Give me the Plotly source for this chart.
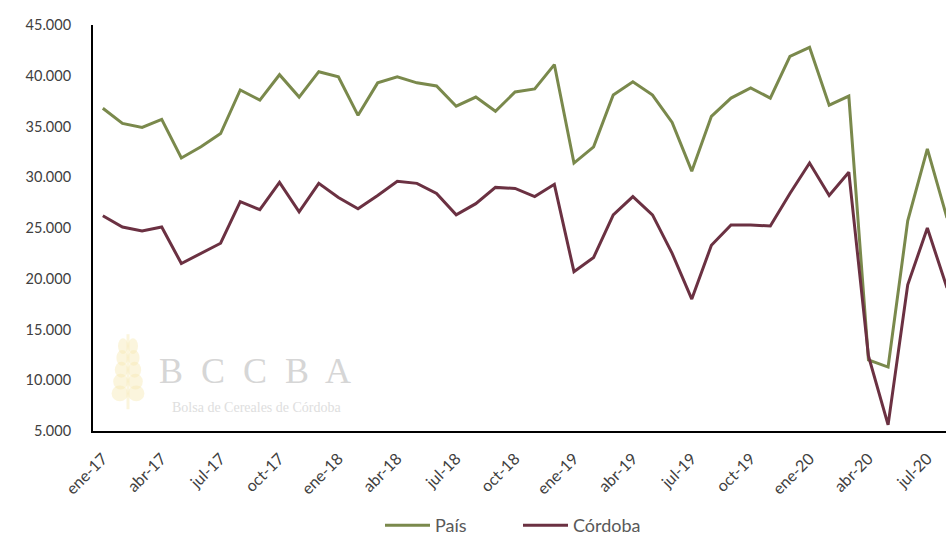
import plotly.graph_objects as go

# Monthly series, Jan 2017 - Aug 2020
meses = ["ene", "feb", "mar", "abr", "may", "jun", "jul", "ago", "sep", "oct", "nov", "dic"]
periodos = [f"{m}-{a}" for a in ["17", "18", "19", "20"] for m in meses][:44]

pais = [
    36800, 35300, 34900, 35700, 31900, 33000, 34300, 38600, 37600, 40100, 37900, 40400,
    39900, 36100, 39300, 39900, 39300, 39000, 37000, 37900, 36500, 38400, 38700, 41100,
    31400, 33000, 38100, 39400, 38100, 35400, 30600, 36000, 37800, 38800, 37800, 41900,
    42800, 37100, 38000, 12000, 11300, 25700, 32800, 26000,
]
cordoba = [
    26200, 25100, 24700, 25100, 21500, 22500, 23500, 27600, 26800, 29500, 26600, 29400,
    28000, 26900, 28200, 29600, 29400, 28400, 26300, 27400, 29000, 28900, 28100, 29300,
    20700, 22100, 26300, 28100, 26300, 22500, 18000, 23300, 25300, 25300, 25200, 28400,
    31400, 28200, 30500, 12400, 5600, 19400, 25000, 19100,
]

etiquetas_x = periodos[::3]
valores_y = [5000, 10000, 15000, 20000, 25000, 30000, 35000, 40000, 45000]

COLOR_PAIS = "#7a894c"
COLOR_CBA = "#6b3142"
FONT = "Lato"

# plot-area geometry in pixels, used to place the watermark
L, R, T, B = 93, 946, 25, 436


def dx(px):
    return (px - L) / (R - L)


def dy(py):
    return (B - py) / (B - T)


fig = go.Figure()
fig.add_trace(go.Scatter(x=periodos, y=pais, name="País", mode="lines",
                         line=dict(color=COLOR_PAIS, width=3)))
fig.add_trace(go.Scatter(x=periodos, y=cordoba, name="Córdoba", mode="lines",
                         line=dict(color=COLOR_CBA, width=3)))

# watermark: wheat ear + BCCBA lettering
grano = "rgba(247,232,180,0.45)"
fig.add_shape(type="line", xref="paper", yref="paper",
              x0=dx(128), x1=dx(128), y0=dy(414), y1=dy(338),
              line=dict(color=grano, width=3), layer="below")
for k in range(5):
    cy = 350 + k * 12
    half = 5 + k * 0.8
    for side in (-1, 1):
        cx = 128 + side * (5 + k * 0.8)
        fig.add_shape(type="circle", xref="paper", yref="paper",
                      x0=dx(cx - half), x1=dx(cx + half), y0=dy(cy + 8), y1=dy(cy - 8),
                      fillcolor=grano, line=dict(width=0), layer="below")
fig.add_annotation(text="B  C  C  B  A", xref="paper", yref="paper",
                   x=dx(255), y=dy(375), xanchor="center", yanchor="middle",
                   showarrow=False,
                   font=dict(family="Liberation Serif", size=36, color="#d6d6d6"))
fig.add_annotation(text="Bolsa de Cereales de Córdoba", xref="paper", yref="paper",
                   x=dx(257), y=dy(412), xanchor="center", yanchor="middle",
                   showarrow=False,
                   font=dict(family="Liberation Serif", size=14, color="#dedede"))

fig.update_layout(
    width=946, height=544,
    margin=dict(l=L, r=946 - R, t=T, b=544 - B),
    paper_bgcolor="white", plot_bgcolor="white",
    separators=",.",
    font=dict(family=FONT, size=16, color="#404040"),
    showlegend=True,
    legend=dict(orientation="h", x=dx(380), xanchor="left", y=dy(532), yanchor="middle",
                font=dict(family=FONT, size=18, color="#595959"),
                itemwidth=45, entrywidth=78, bgcolor="rgba(0,0,0,0)"),
    xaxis=dict(type="category", range=[-0.5, 42.95], tickmode="array",
               tickvals=etiquetas_x, tickangle=-45, showgrid=False,
               showline=True, linecolor="black", linewidth=2, ticks="",
               ticklabelstandoff=10, zeroline=False),
    yaxis=dict(range=[5000, 45000], tickmode="array", tickvals=valores_y,
               tickformat=",d", tickfont=dict(size=14.5), showgrid=False,
               showline=True, linecolor="black", linewidth=2, ticks="",
               ticklabelstandoff=17, zeroline=False),
)

fig.write_html("out.html")
